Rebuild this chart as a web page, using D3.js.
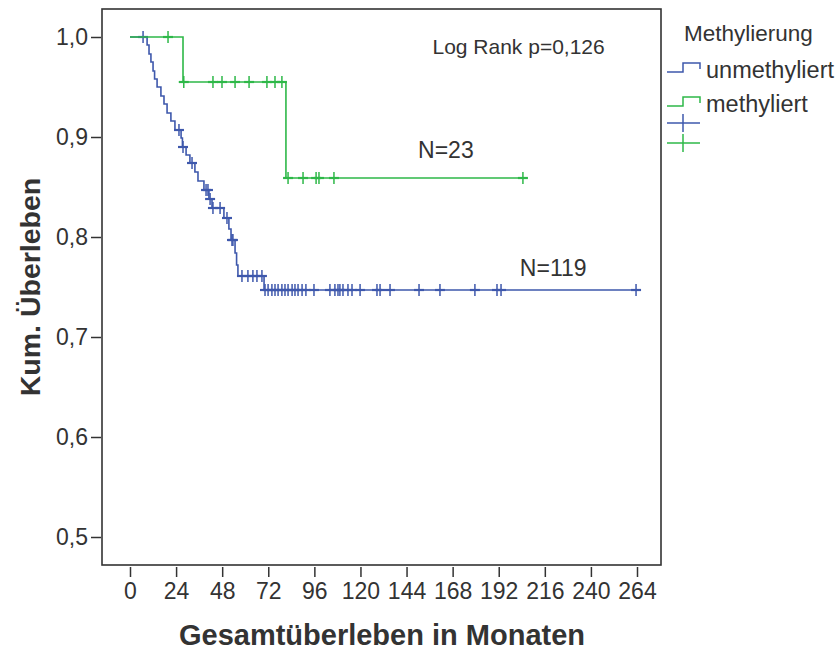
<!DOCTYPE html>
<html>
<head>
<meta charset="utf-8">
<script src="https://cdn.jsdelivr.net/npm/d3@7"></script>
<style>
  html, body { margin: 0; padding: 0; background: #fff; }
  svg { display: block; }
  text { font-family: Arial, "Liberation Sans", sans-serif; fill: #333; }
</style>
</head>
<body>
<svg id="chart" width="835" height="650"></svg>
<script>
// ---- data (months, cumulative survival) ----
const groups = ["unmethyliert", "methyliert"];
const groupColors = ["#3E58AC", "#2EB848"];

// unmethyliert: event times and survival after each event
const unmethEventTimes = [8.9, 9.9, 10.9, 12.0, 12.8, 14.1, 16.1, 17.7, 19.3, 21.3, 23.4, 26.6, 27.3, 29.2, 31.2, 33.8, 35.4, 38.5, 41.1, 42.7, 48.9, 51.5, 52.6, 54.7, 55.5, 56.2, 69.8];
const unmethSurvival   = [0.992, 0.983, 0.975, 0.966, 0.958, 0.950, 0.941, 0.933, 0.924, 0.916, 0.907, 0.899, 0.890, 0.882, 0.874, 0.865, 0.856, 0.847, 0.838, 0.829, 0.819, 0.808, 0.797, 0.784, 0.772, 0.761, 0.747];
const unmethCensored   = [6.8, 25.5, 27.6, 32.3, 39.6, 40.6, 41.7, 43.2, 46.9, 50.5, 53.1, 53.6, 58.3, 61.4, 64.0, 66.1, 68.7,
  70.3, 71.9, 73.9, 75.5, 77.1, 79.1, 80.7, 82.3, 84.4, 85.9, 87.5, 89.6, 91.6, 95.8, 104.1, 106.7, 108.3, 109.3, 110.9, 113.5, 115.6, 119.8, 128.6, 130.2, 135.4, 150.5, 161.4, 179.6, 191.1, 193.2, 263.5];
const unmethEnd = 263.5;

// methyliert
const methEventTimes = [27.6, 81.2];
const methSurvival   = [0.955, 0.859];
const methCensored   = [19.8, 28.0, 43.2, 47.9, 54.7, 62.0, 71.3, 75.5, 79.1, 82.3, 90.1, 96.9, 98.4, 106.2, 204.6];
const methEnd = 204.6;

const xTicks = [0, 24, 48, 72, 96, 120, 144, 168, 192, 216, 240, 264];
const yTicks = [0.5, 0.6, 0.7, 0.8, 0.9, 1.0];

const annotations = [
  {text: "Log Rank p=0,126", t: 157.5, s: 0.990, size: 21},
  {text: "N=23", t: 150, s: 0.887, size: 23},
  {text: "N=119", t: 203, s: 0.769, size: 23}
];

// ---- drawing ----
const svg = d3.select("#chart");
const x = d3.scaleLinear().domain([0, 264]).range([130, 637]);
const y = d3.scaleLinear().domain([0.5, 1.0]).range([537, 37]);
const frame = {x0: 102, x1: 661, y0: 9, y1: 565};

svg.append("rect").attr("x", frame.x0).attr("y", frame.y0)
  .attr("width", frame.x1 - frame.x0).attr("height", frame.y1 - frame.y0)
  .attr("fill", "#fff").attr("stroke", "#333").attr("stroke-width", 1.6);

// x axis
const xAxis = d3.axisBottom(x).tickValues(xTicks).tickSize(10).tickPadding(6).tickFormat(d3.format("d"));
const gx = svg.append("g").attr("transform", `translate(0,${frame.y1 + 2})`).call(xAxis);
gx.select(".domain").remove();
gx.selectAll(".tick line").attr("stroke", "#333").attr("stroke-width", 1.5);
gx.selectAll(".tick text").attr("font-size", 23).attr("fill", "#333")
  .attr("font-family", "Arial, 'Liberation Sans', sans-serif");

// y axis
const yAxis = d3.axisLeft(y).tickValues(yTicks).tickSize(10).tickPadding(3)
  .tickFormat(d => d3.format(".1f")(d).replace(".", ","));
const gy = svg.append("g").attr("transform", `translate(${frame.x0 - 1},0)`).call(yAxis);
gy.select(".domain").remove();
gy.selectAll(".tick line").attr("stroke", "#333").attr("stroke-width", 1.5);
gy.selectAll(".tick text").attr("font-size", 23).attr("fill", "#333")
  .attr("font-family", "Arial, 'Liberation Sans', sans-serif");

// step function helpers
function stepPoints(times, surv, end) {
  const pts = [[0, 1.0]];
  let s = 1.0;
  times.forEach((t, i) => { pts.push([t, s]); s = surv[i]; pts.push([t, s]); });
  pts.push([end, s]);
  return pts;
}
function survAt(times, surv, t) {
  let s = 1.0;
  times.forEach((tt, i) => { if (tt <= t) s = surv[i]; });
  return s;
}
const line = d3.line().x(d => x(d[0])).y(d => y(d[1]));

const series = [
  {times: unmethEventTimes, surv: unmethSurvival, cens: unmethCensored, end: unmethEnd, color: groupColors[0]},
  {times: methEventTimes, surv: methSurvival, cens: methCensored, end: methEnd, color: groupColors[1]}
];

series.forEach(sr => {
  svg.append("path").datum(stepPoints(sr.times, sr.surv, sr.end))
    .attr("d", line).attr("fill", "none").attr("stroke", sr.color).attr("stroke-width", 1.6);
  const g = svg.append("g");
  sr.cens.forEach(t => {
    const cx = x(t), cy = y(survAt(sr.times, sr.surv, t));
    g.append("line").attr("x1", cx).attr("x2", cx).attr("y1", cy - 6).attr("y2", cy + 6)
      .attr("stroke", sr.color).attr("stroke-width", 1.5);
    g.append("line").attr("x1", cx - 5).attr("x2", cx + 5).attr("y1", cy).attr("y2", cy)
      .attr("stroke", sr.color).attr("stroke-width", 2.2);
  });
});

// annotations
annotations.forEach(a => {
  svg.append("text").attr("x", x(a.t)).attr("y", y(a.s)).attr("dy", "0.35em")
    .attr("font-size", a.size).text(a.text);
});

// axis titles
svg.append("text").attr("x", 382).attr("y", 645).attr("text-anchor", "middle")
  .attr("font-size", 29).attr("font-weight", "bold").attr("fill", "#111").text("Gesamtüberleben in Monaten");
svg.append("text").attr("transform", "translate(40,287) rotate(-90)").attr("text-anchor", "middle")
  .attr("font-size", 28.5).attr("font-weight", "bold").attr("fill", "#111").text("Kum. Überleben");

// legend
const lg = svg.append("g");
lg.append("text").attr("x", 684).attr("y", 33).attr("dy", "0.35em").attr("font-size", 22.5).text("Methylierung");
groups.forEach((name, i) => {
  const yb = 72 + i * 34;
  lg.append("path").attr("d", `M667,${yb}H683V${yb - 9}H700V${yb - 3}`)
    .attr("fill", "none").attr("stroke", groupColors[i]).attr("stroke-width", 1.5);
  lg.append("text").attr("x", 706).attr("y", yb - 2).attr("dy", "0.35em").attr("font-size", 23.5).text(name);
});
groups.forEach((name, i) => {
  const yc = 123 + i * 20;
  lg.append("line").attr("x1", 667).attr("x2", 700).attr("y1", yc).attr("y2", yc)
    .attr("stroke", groupColors[i]).attr("stroke-width", 1.5);
  lg.append("line").attr("x1", 683).attr("x2", 683).attr("y1", yc - 9).attr("y2", yc + 9)
    .attr("stroke", groupColors[i]).attr("stroke-width", 1.5);
});
</script>
</body>
</html>
